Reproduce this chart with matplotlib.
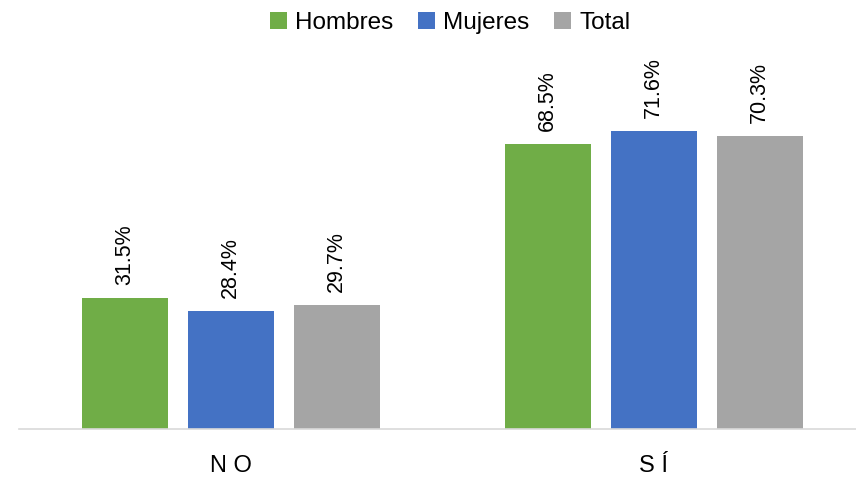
import matplotlib
matplotlib.use("Agg")
import matplotlib.pyplot as plt
from matplotlib import font_manager
from matplotlib.patches import Patch
import numpy as np

categories = ["NO", "SÍ"]
series_names = ["Hombres", "Mujeres", "Total"]
hombres = [31.5, 68.5]
mujeres = [28.4, 71.6]
total = [29.7, 70.3]
colors = ["#70AD47", "#4472C4", "#A5A5A5"]

names = {f.name for f in font_manager.fontManager.ttflist}
fam = "Liberation Sans Narrow" if "Liberation Sans Narrow" in names else "Liberation Sans"
plt.rcParams['font.family'] = [fam, 'DejaVu Sans']

fig = plt.figure(figsize=(8.56, 4.8), dpi=100)
W, H = 856, 480
ax = fig.add_axes([19 / W, 51 / H, 846 / W, 333 / H])

x = np.arange(len(categories))
width = 86 / 423
step = 106 / 423
for i, (vals, c) in enumerate(zip([hombres, mujeres, total], colors)):
    bars = ax.bar(x + (i - 1) * step, vals, width, color=c, label=series_names[i])
    for b, v in zip(bars, vals):
        ax.annotate(f"{v:.1f}%", (b.get_x() + b.get_width() / 2, b.get_height()),
                    xytext=(0, 13), textcoords="offset pixels",
                    rotation=90, ha="center", va="bottom", fontsize=15.5, color="#000000")

ax.set_xlim(-0.5, 1.5)
ax.set_ylim(0, 80)
ax.set_yticks([])
ax.set_xticks(x)
ax.set_xticklabels([" ".join(c) for c in categories], fontsize=17)
ax.tick_params(axis="x", length=0, pad=19)
for s in ["top", "left", "right"]:
    ax.spines[s].set_visible(False)
ax.spines["bottom"].set_color("#D9D9D9")
ax.spines["bottom"].set_linewidth(1.2)

handles = [Patch(facecolor=c, label=n) for c, n in zip(colors, series_names)]
fig.legend(handles=handles, loc="center", bbox_to_anchor=(450 / W, 1 - 23 / H), ncol=3,
           frameon=False, fontsize=17.5, handlelength=0.7, handleheight=0.7,
           handletextpad=0.35, columnspacing=1.0)

fig.savefig("out.png", dpi=100)
